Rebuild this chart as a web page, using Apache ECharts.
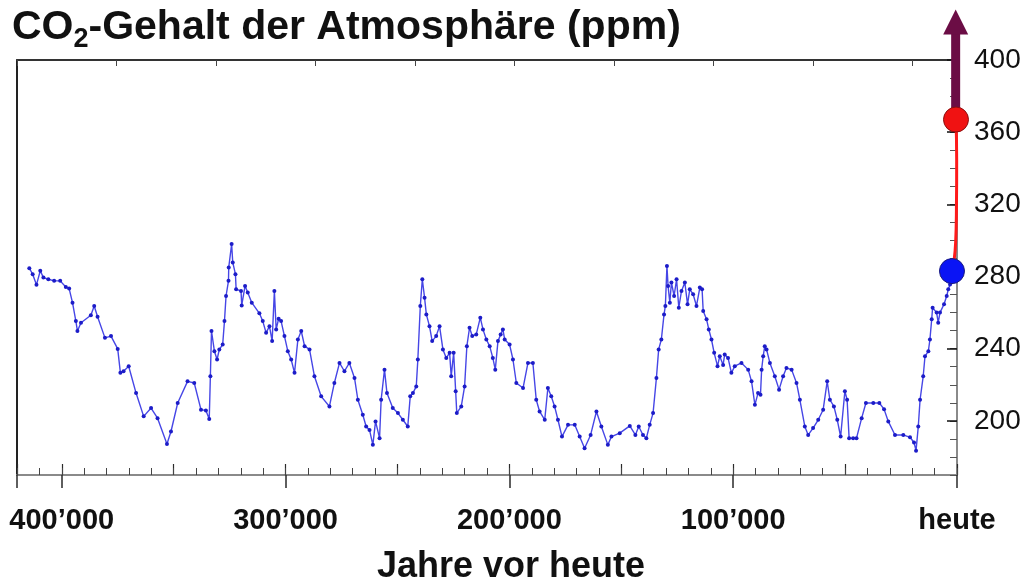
<!DOCTYPE html>
<html>
<head>
<meta charset="utf-8">
<script src="https://cdn.jsdelivr.net/npm/echarts@6/dist/echarts.min.js"></script>
<style>
  html, body { margin: 0; padding: 0; background: #ffffff; }
  #chart { width: 1025px; height: 582px; }
</style>
</head>
<body>
<div id="chart"></div>
<script>
// Vostok ice core: CO2 concentration against age (years before present)
const yearsBP = [
  414500, 413000, 411300, 409600, 408200, 406000, 403400, 400700, 398200, 396700,
  395200, 393700, 393000, 391400, 387000, 385500, 384000, 380700, 378000, 375000,
  373800, 372400, 370100, 366800, 363400, 360100, 357200, 353000, 351200, 348200,
  343800, 340800, 337800, 335600, 334100, 333600, 333100, 331800, 330600, 329600,
  328100, 327300, 326600, 325500, 325400, 324100, 323600, 322400, 322100, 319900,
  319600, 318100, 316900, 315100, 311700, 310200, 308700, 307200, 306000, 305000,
  304200, 303100, 302000, 300500, 299000, 297500, 296000, 294500, 293000, 291500,
  289300, 287100, 284100, 280400, 278200, 275900, 273700, 271500, 269200, 267700,
  265500, 264000, 262500, 261000, 259800, 258000, 257300, 255800, 254700, 252100,
  249800, 247600, 245400, 244300, 243100, 241600, 240900, 239800, 238900, 237900,
  237100, 235700, 234500, 232700, 231200, 229700, 228200, 226700, 226000, 224900,
  224000, 223500, 221500, 220000, 219000, 217800, 216600, 214800, 213000, 211800,
  210300, 208800, 207400, 206300, 205100, 203900, 202900, 202100, 199900, 198400,
  196900, 193900, 191700, 189500, 188000, 186500, 184200, 182800, 181300, 179800,
  178300, 176500, 173800, 170800, 168600, 166400, 163700, 161100, 158900, 156000,
  154400, 150700, 146200, 143700, 142200, 140300, 138800, 137300, 135800, 134300,
  133300, 132100, 130900, 130300, 129600, 129100, 128300, 127600, 126400, 125300,
  124300, 123100, 121600, 120400, 119400, 117900, 116400, 114900, 113900, 113400,
  111900, 110900, 109700, 108500, 107000, 106000, 104500, 103800, 102300, 100800,
  99300, 96300, 93300, 91800, 90300, 88900, 87800, 87300, 86600, 85900,
  85100, 83600, 81400, 79500, 77700, 76200, 73900, 71700, 70200, 68000,
  66500, 64300, 62000, 59800, 58000, 56800, 55000, 53500, 52000, 50100,
  49100, 48200, 46400, 44900, 42600, 40700, 37400, 34700, 32600, 30700,
  27700, 24000, 21000, 19200, 18300, 17300, 16500, 15100, 14300, 12800,
  12100, 11300, 10900, 9100, 8400, 7600, 5800, 4600, 3900, 3100
];
const co2ppm = [
  284.6, 281.3, 275.4, 283.2, 279.4, 278.5, 277.6, 277.6, 274.2, 273.3,
  265.5, 255.3, 249.8, 254.4, 258.5, 263.7, 257.7, 246.0, 247.0, 239.9,
  226.6, 227.5, 230.3, 215.4, 202.5, 207.1, 201.5, 187.2, 194.1, 209.9,
  221.9, 221.0, 206.2, 205.8, 201.0, 224.7, 249.8, 238.6, 234.0, 239.6,
  242.3, 255.3, 269.2, 277.6, 285.0, 298.0, 287.8, 281.3, 272.9, 272.0,
  264.0, 274.8, 271.1, 265.5, 259.6, 255.3, 248.8, 252.5, 244.2, 272.0,
  250.7, 256.6, 255.3, 247.0, 238.6, 234.0, 226.6, 245.1, 249.8, 241.4,
  239.6, 224.7, 213.6, 208.0, 221.0, 232.1, 227.5, 232.1, 223.8, 211.7,
  203.4, 196.9, 195.0, 186.7, 199.7, 190.4, 211.7, 228.4, 215.4, 207.1,
  204.3, 200.6, 196.9, 213.6, 215.4, 219.1, 234.0, 263.7, 278.5, 268.3,
  259.0, 252.5, 244.2, 247.0, 252.5, 239.6, 234.9, 237.7, 224.7, 237.7,
  216.4, 204.3, 208.0, 219.1, 241.4, 251.6, 247.0, 247.9, 257.2, 250.7,
  245.1, 241.4, 234.9, 228.4, 244.2, 247.9, 250.7, 245.1, 242.3, 234.0,
  221.0, 218.2, 232.1, 232.1, 211.7, 205.2, 200.6, 218.2, 213.6, 208.0,
  200.6, 191.3, 197.8, 197.8, 191.3, 184.8, 192.2, 205.2, 196.9, 186.7,
  191.3, 193.2, 197.2, 192.2, 196.9, 192.2, 190.4, 197.8, 204.3, 223.8,
  239.6, 245.1, 259.0, 263.7, 285.9, 274.8, 265.5, 276.7, 269.2, 278.5,
  262.7, 272.0, 276.7, 264.6, 272.9, 270.2, 263.7, 273.9, 272.9, 260.9,
  256.3, 250.7, 245.1, 237.7, 230.3, 235.8, 231.0, 236.8, 234.9, 226.6,
  230.3, 232.1, 228.4, 221.9, 208.9, 215.4, 214.5, 228.4, 235.8, 241.4,
  239.6, 232.1, 224.7, 217.3, 224.7, 229.3, 228.4, 221.0, 211.7, 196.9,
  192.2, 196.0, 200.6, 206.2, 221.9, 211.7, 208.0, 200.6, 191.3, 216.4,
  211.7, 190.4, 190.4, 190.4, 201.5, 209.9, 209.9, 209.9, 206.5, 199.7,
  192.2, 192.2, 190.9, 188.0, 183.5, 196.9, 211.7, 224.7, 235.8, 238.6,
  245.1, 256.3, 262.7, 260.0, 254.4, 260.0, 264.6, 269.2, 272.9, 275.6
];

// Pre-industrial level and the modern rise (years before present, ppm)
const preIndustrial = [2240, 283];
const modernYears = [2240, 1300, 600, 250, 150, 450];
const modernPpm = [283, 289, 299, 318, 345, 367];
const modernLevel = [450, 367];
// Arrow pointing beyond the top of the scale
const arrowYear = 600;
const arrowFrom = 367;
const arrowTo = 428;

// Tick labels
const xTickLabels = { 0: 'heute', 100000: '100’000', 200000: '200’000', 300000: '300’000', 400000: '400’000' };
const yTickLabels = [200, 240, 280, 320, 360, 400];

const FONT = '"Liberation Sans", Arial, Helvetica, sans-serif';
const GRAY = '#8a8a8a';
const DARK = '#2a2a2a';

const chart = echarts.init(document.getElementById('chart'), null, { renderer: 'canvas' });

const xBase = { type: 'value', min: 0, max: 420000, inverse: true, position: 'bottom',
  splitLine: { show: false }, axisLine: { onZero: false } };
const yBase = { type: 'value', min: 170, max: 400, position: 'right',
  splitLine: { show: false }, axisLine: { onZero: false } };

const option = {
  animation: false,
  backgroundColor: '#ffffff',
  title: {
    text: '{t|CO}{s|2}{t|-Gehalt der Atmosphäre (ppm)}',
    left: 7,
    top: -2,
    textStyle: {
      rich: {
        t: { fontFamily: FONT, fontSize: 41, fontWeight: 'bold', color: '#111', lineHeight: 50 },
        s: { fontFamily: FONT, fontSize: 27, fontWeight: 'bold', color: '#111', lineHeight: 26, verticalAlign: 'bottom' }
      }
    }
  },
  grid: { left: 17, right: 68, top: 60, bottom: 107, containLabel: false, outerBoundsMode: 'none' },
  xAxis: [
    Object.assign({}, xBase, {
      interval: 100000,
      axisLine: { show: true, onZero: false, lineStyle: { color: GRAY, width: 2 } },
      axisTick: { show: true, inside: false, length: 13, lineStyle: { color: DARK, width: 1.5 } },
      axisLabel: {
        show: true, margin: 31, fontFamily: FONT, fontSize: 29, fontWeight: 'bold', color: '#111',
        formatter: v => xTickLabels[v] !== undefined ? xTickLabels[v] : ''
      },
      name: 'Jahre vor heute',
      nameLocation: 'middle',
      nameGap: 74,
      nameTextStyle: { fontFamily: FONT, fontSize: 36, fontWeight: 'bold', color: '#111', padding: [0, 0, 0, 48] }
    }),
    Object.assign({}, xBase, {
      interval: 50000,
      axisLine: { show: false, onZero: false },
      axisTick: { show: true, inside: true, length: 11, lineStyle: { color: DARK, width: 1.2 } },
      axisLabel: { show: false }
    }),
    Object.assign({}, xBase, {
      interval: 10000,
      axisLine: { show: false, onZero: false },
      axisTick: { show: true, inside: true, length: 7, lineStyle: { color: '#444', width: 1 } },
      axisLabel: { show: false }
    }),
    {
      type: 'value', min: 0, max: 9.45, interval: 1, position: 'top',
      splitLine: { show: false },
      axisLine: { show: true, onZero: false, lineStyle: { color: '#333', width: 2 } },
      axisTick: { show: true, inside: true, length: 6, lineStyle: { color: '#444', width: 1 } },
      axisLabel: { show: false }
    }
  ],
  yAxis: [
    Object.assign({}, yBase, {
      interval: 10,
      axisLine: { show: true, onZero: false, lineStyle: { color: GRAY, width: 2 } },
      axisTick: { show: true, inside: true, length: 7, lineStyle: { color: '#555', width: 1 } },
      axisLabel: {
        show: true, margin: 17, fontFamily: FONT, fontSize: 28, color: '#111',
        formatter: v => yTickLabels.indexOf(v) >= 0 ? String(v) : ''
      }
    }),
    Object.assign({}, yBase, {
      axisLine: { show: false, onZero: false },
      axisTick: { show: true, inside: true, length: 10, customValues: yTickLabels, lineStyle: { color: '#111', width: 1.5 } },
      axisLabel: { show: false }
    }),
    {
      type: 'value', min: 170, max: 400, position: 'left',
      splitLine: { show: false },
      axisLine: { show: true, onZero: false, lineStyle: { color: '#222', width: 2 } },
      axisTick: { show: false },
      axisLabel: { show: false }
    }
  ],
  series: [
    {
      name: 'CO2',
      type: 'line',
      xAxisIndex: 0,
      yAxisIndex: 0,
      data: yearsBP.map((t, i) => [t, co2ppm[i]]),
      showSymbol: true,
      symbol: 'circle',
      symbolSize: 4,
      lineStyle: { color: '#4646e6', width: 1.4 },
      itemStyle: { color: '#1c1cc8', opacity: 1 },
      z: 3
    },
    {
      name: 'Pfeil',
      type: 'custom',
      xAxisIndex: 0,
      yAxisIndex: 0,
      clip: false,
      data: [[arrowYear, arrowFrom, arrowTo]],
      renderItem: (params, api) => {
        const base = api.coord([api.value(0), api.value(1)]);
        const tip = api.coord([api.value(0), api.value(2)]);
        const headLen = 25, headHalf = 12.5, shaftHalf = 4.5;
        const color = '#6b0d45';
        return {
          type: 'group',
          children: [
            { type: 'rect', shape: { x: base[0] - shaftHalf, y: tip[1] + headLen - 1, width: shaftHalf * 2, height: base[1] - tip[1] - headLen + 1 }, style: { fill: color } },
            { type: 'polygon', shape: { points: [[tip[0], tip[1]], [tip[0] - headHalf, tip[1] + headLen], [tip[0] + headHalf, tip[1] + headLen]] }, style: { fill: color } }
          ]
        };
      },
      z: 4
    },
    {
      name: 'Anstieg',
      type: 'line',
      xAxisIndex: 0,
      yAxisIndex: 0,
      data: modernYears.map((t, i) => [t, modernPpm[i]]),
      smooth: 0.5,
      showSymbol: false,
      clip: false,
      lineStyle: { color: '#ff1a1a', width: 3 },
      z: 5
    },
    {
      name: 'Punkte',
      type: 'scatter',
      xAxisIndex: 0,
      yAxisIndex: 0,
      clip: false,
      symbolSize: 25,
      data: [
        { value: preIndustrial, itemStyle: { color: '#0a14f5', borderColor: '#1a1a80', borderWidth: 1, opacity: 1 } },
        { value: modernLevel, itemStyle: { color: '#f01212', borderColor: '#8a1010', borderWidth: 1, opacity: 1 } }
      ],
      z: 6
    }
  ]
};

chart.setOption(option);
</script>
</body>
</html>
